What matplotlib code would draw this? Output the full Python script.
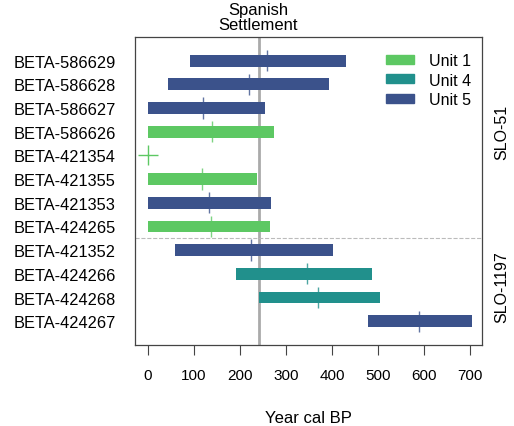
import numpy as np
import matplotlib
matplotlib.use('Agg')
import matplotlib.pyplot as plt
from matplotlib.patches import Patch

plt.rcParams['font.family'] = ['Liberation Sans', 'DejaVu Sans']

# data (years cal BP)
samples = ['BETA-586629', 'BETA-586628', 'BETA-586627', 'BETA-586626',
           'BETA-421354', 'BETA-421355', 'BETA-421353', 'BETA-424265',
           'BETA-421352', 'BETA-424266', 'BETA-424268', 'BETA-424267']
units = ['Unit 5', 'Unit 5', 'Unit 5', 'Unit 1',
         'Unit 1', 'Unit 1', 'Unit 5', 'Unit 1',
         'Unit 5', 'Unit 4', 'Unit 4', 'Unit 5']
lower = [91, 44, 0, 0, 0, 0, 0, 0, 58, 191, 242, 477]
upper = [430, 393, 254, 273, 0, 236, 267, 265, 402, 486, 504, 705]
median = [259, 220, 119, 139, 0, 117, 133, 137, 224, 346, 370, 589]

unit_colors = {'Unit 1': '#5dc863', 'Unit 4': '#21908c', 'Unit 5': '#3b528b'}
spanish_settlement = 240
sites = ['SLO-51', 'SLO-1197']
site_centres = [4.0, 10.5]
site_split = 8.5

fig = plt.figure(figsize=(5.14, 4.27), dpi=100)
ax = fig.add_axes([0.263, 0.19, 0.675, 0.721])

ypos = np.arange(1, len(samples) + 1)
for y, lo, hi, md, u in zip(ypos, lower, upper, median, units):
    c = unit_colors[u]
    if hi > lo:
        ax.barh(y, hi - lo, left=lo, height=0.5, color=c, zorder=2)
        ax.vlines(md, y - 0.45, y + 0.45, color=c, lw=1, zorder=3, alpha=0.8)
    else:
        ax.plot(md, y, marker='+', ms=14, mew=1, color=c, zorder=3)

ax.axvline(spanish_settlement, color='#aaaaaa', lw=2, zorder=1)
ax.axhline(site_split, color='#bbbbbb', lw=0.8, ls='--', zorder=1)

ax.set_xlim(-28, 726)
ax.set_ylim(13, 0)
ax.set_yticks(ypos)
ax.set_yticklabels(samples, fontsize=11.8)
ax.tick_params(axis='y', length=0, pad=14)
ax.set_xticks(np.arange(0, 701, 100))
ax.tick_params(axis='x', labelsize=11, length=7, pad=10, color='#444444')
ax.set_xlabel('Year cal BP', fontsize=12, labelpad=20)
for s in ax.spines.values():
    s.set_color('#444444')
    s.set_linewidth(0.9)

ax.text(spanish_settlement, -0.2, 'Spanish\nSettlement', ha='center', va='bottom',
        fontsize=12, linespacing=1.05)

for name, yc in zip(sites, site_centres):
    ax.text(1.058, yc, name, transform=ax.get_yaxis_transform(), rotation=90,
            ha='center', va='center', fontsize=11.5)

handles = [Patch(color=unit_colors[u]) for u in ['Unit 1', 'Unit 4', 'Unit 5']]
ax.legend(handles, ['Unit 1', 'Unit 4', 'Unit 5'], loc='upper right', frameon=False,
          fontsize=11.5, handlelength=1.75, handleheight=0.5, labelspacing=0.3,
          handletextpad=0.95, bbox_to_anchor=(1.0, 0.985), borderaxespad=0.3)

fig.savefig('out.png', dpi=100)
